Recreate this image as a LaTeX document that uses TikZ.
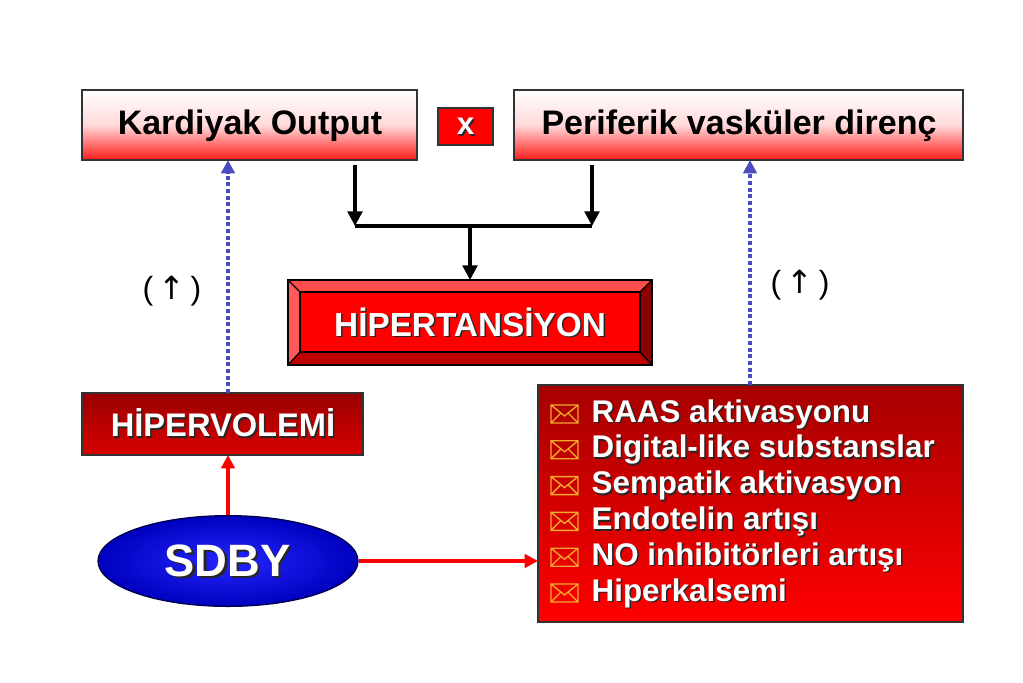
\documentclass[tikz,border=0pt]{standalone}
\usepackage{fontspec}
\setmainfont{Liberation Sans}
\newfontfamily\symf{DejaVu Sans}
\usetikzlibrary{arrows.meta,shapes.geometric}
\definecolor{env}{RGB}{240,170,40}
\tikzset{
  topbox/.style={draw=black!80,line width=1.8pt,top color=white,bottom color=red!90,middle color=red!15},
  blk/.style={-{Triangle[length=11pt,width=11pt]},line width=2.5pt},
  dots/.style={dotted,line width=3pt,-{Triangle[length=10pt,width=10pt]},color=blue!65!black!70},
  redar/.style={-{Triangle[length=10pt,width=10pt]},line width=3pt,red},
  wtxt/.style={font=\bfseries\fontsize{23.5}{26}\selectfont,text=white},
  stxt/.style={font=\bfseries\fontsize{23.5}{26}\selectfont,text=black!85},
  ttl/.style={font=\bfseries\fontsize{25.5}{28}\selectfont},
}
\newcommand{\shtext}[4]{\node[stxt,anchor=#4] at (#1+1.5,#2+1.5) {#3};\node[wtxt,anchor=#4] at (#1,#2) {#3};}
\begin{document}
\begin{tikzpicture}[x=0.75pt,y=-0.75pt]
\path[use as bounding box] (0,0) rectangle (1023,682);
% top boxes
\path[topbox] (82,90) rectangle (417,160);
\node[ttl] (ko) at (250,126) {Kardiyak Output};
\coordinate (kob) at (228,160);
\path[draw=black!80,line width=1.5pt,fill=red] (438,108) rectangle (493,145);
\node[stxt] at (467,128) {x};
\node[wtxt] (x) at (465.5,126.5) {x};
\path[topbox] (514,90) rectangle (963,160);
\node[ttl] (pv) at (739,126) {Periferik vasküler direnç};
% black arrows
\coordinate (a1) at (355,165); \coordinate (a1e) at (355,226);
\coordinate (a2) at (592,165); \coordinate (a2e) at (592,226);
\coordinate (m) at (470,226); \coordinate (me) at (470,280);
\draw[blk] (a1) -- (a1e);
\draw[blk] (a2) -- (a2e);
\draw[line width=2.5pt] (355,226) -- (592,226);
\draw[blk] (m) -- (me);
% hipertansiyon bevel
\fill[red!70!white] (288,280) -- (652,280) -- (640,292) -- (300,292) -- cycle;
\fill[red!75!black] (288,365) -- (652,365) -- (640,352) -- (300,352) -- cycle;
\fill[red!65!white] (288,280) -- (300,292) -- (300,352) -- (288,365) -- cycle;
\fill[red!55!black] (652,280) -- (640,292) -- (640,352) -- (652,365) -- cycle;
\draw[line width=1.5pt] (288,280) rectangle (652,365);
\draw[line width=1.5pt,fill=red] (300,292) rectangle (640,352);
\draw[line width=1pt] (288,280)--(300,292) (652,280)--(640,292) (288,365)--(300,352) (652,365)--(640,352);
\shtext{470}{322}{\fontsize{25}{28}\selectfont HİPERTANSİYON}{center}
\node[font=\fontsize{24}{26}\selectfont] (u1) at (172,291) {(\,{\symf ↑}\,)};
\node[font=\fontsize{24}{26}\selectfont] (u2) at (800,285) {(\,{\symf ↑}\,)};
% hipervolemi
\path[draw=black!80,line width=1.5pt,top color=red!60!black,bottom color=red!85!black] (82,393) rectangle (363,455);
\coordinate (hvt) at (228,393); \coordinate (hvb) at (228,455);
\shtext{223}{423}{\fontsize{24.5}{27}\selectfont HİPERVOLEMİ}{center}
% list box
\path[draw=black!80,line width=1.5pt,top color=red!65!black,bottom color=red] (538,385) rectangle (963,622);
\coordinate (lt) at (750,385); \coordinate (ll) at (538,561);
\foreach \t [count=\i] in {RAAS aktivasyonu,Digital-like substanslar,Sempatik aktivasyon,Endotelin artışı,NO inhibitörleri artışı,Hiperkalsemi}{
  \pgfmathsetmacro\yy{414+35.8*(\i-1)}
  \draw[env,line width=1pt] (551,\yy-9) rectangle (578,\yy+9) (551,\yy-9) -- (564.5,\yy+2) -- (578,\yy-9) (551,\yy+9)--(561,\yy-1) (578,\yy+9)--(568,\yy-1);
  \shtext{587}{\yy}{\t}{west}
}
% dotted
\draw[dots] (hvt) -- (kob);
\draw[dots] (lt) -- (750,160);
% SDBY
\node[ellipse,draw=blue!30!black,line width=1pt,inner sep=0pt,
  minimum width=195pt,minimum height=68pt,inner color=blue!85!white,outer color=blue!75!black] (sd) at (228,561) {};
\node[text=black!85,font=\bfseries\fontsize{34}{36}\selectfont] at (230,563) {SDBY};
\node[text=white,font=\bfseries\fontsize{34}{36}\selectfont] at (227.5,560.5) {SDBY};
\draw[redar] (sd.north) -- (hvb);
\draw[redar] (sd.east) -- (ll);
\end{tikzpicture}
\end{document}
